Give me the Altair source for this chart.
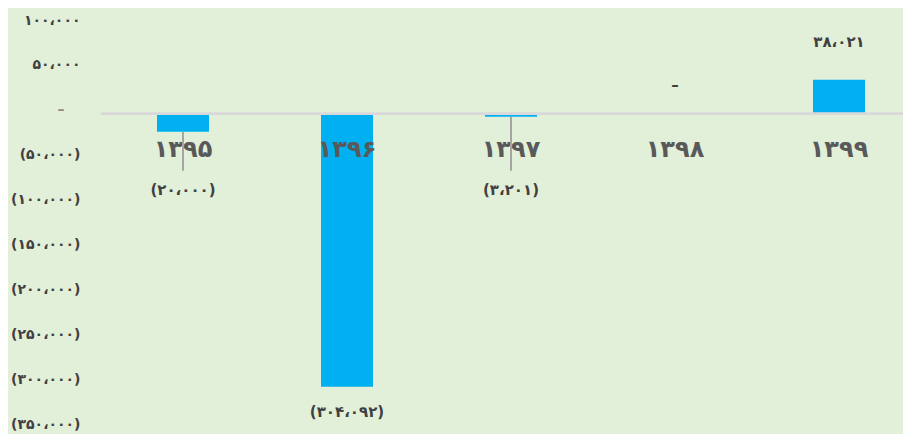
import json
import altair as alt
import pandas as pd

# ---- data ----
years = ["۱۳۹۵", "۱۳۹۶", "۱۳۹۷", "۱۳۹۸", "۱۳۹۹"]
values = [-20000, -304092, -3201, 0, 38021]
value_labels = ["(۲۰،۰۰۰)", "(۳۰۴،۰۹۲)", "(۳،۲۰۱)", "–", "۳۸،۰۲۱"]

tick_values = [100000, 50000, 0, -50000, -100000, -150000, -200000, -250000, -300000, -350000]
tick_labels = ["۱۰۰،۰۰۰", "۵۰،۰۰۰", "–", "(۵۰،۰۰۰)", "(۱۰۰،۰۰۰)",
               "(۱۵۰،۰۰۰)", "(۲۰۰،۰۰۰)", "(۲۵۰،۰۰۰)", "(۳۰۰،۰۰۰)", "(۳۵۰،۰۰۰)"]

# ---- layout / style ----
W, H = 802, 404          # page must fit 911x442 incl. 8px body margin
X_RANGE = 820            # band range; last band runs past the visible edge
Y_MIN, Y_MAX = -350000, 100000
px_per_unit = H / (Y_MAX - Y_MIN)
label_shift_px = [58, 25, 73, -29, -38]   # data label offsets below bar end (pixels)
leader = [True, False, True, False, False]  # leader lines for moved labels
BG = "#e2efd9"
BAR = "#00b0f0"
FONT = "DejaVu Sans"

df = pd.DataFrame({"year": years, "value": values, "label": value_labels,
                   "shift": label_shift_px, "leader": leader})
df["label_pos"] = df["value"] - df["shift"] / px_per_unit
df["leader_end"] = df["value"] - (df["shift"] - 19) / px_per_unit

x = alt.X("year:N", sort=years, axis=None,
          scale=alt.Scale(paddingInner=0, paddingOuter=0, range=[0, X_RANGE]))
yscale = alt.Scale(domain=[Y_MIN, Y_MAX], nice=False, zero=False)

label_expr = "{}[indexof({}, datum.value)]".format(json.dumps(tick_labels, ensure_ascii=False),
                                                   json.dumps(tick_values))

base = alt.Chart(df)

bars = base.mark_bar(size=52, color=BAR).encode(
    x=x,
    y=alt.Y("value:Q", scale=yscale,
            axis=alt.Axis(values=tick_values, labelExpr=label_expr, grid=False,
                          domain=False, ticks=False, title=None,
                          labelPadding=alt.condition("datum.value == 0", alt.value(37),
                                                     alt.value(21)),
                          labelFont=FONT, labelFontSize=14, labelFontWeight="bold",
                          labelColor=alt.condition("datum.value == 0", alt.value("#8c8c8c"),
                                                   alt.value("#404040")),
                          labelOverlap=False, labelOffset=-4)),
    y2=alt.datum(0),
)

zero_line = base.mark_rule(color="#d9d9d9", strokeWidth=2).encode(y=alt.datum(0))

cat_text = base.mark_text(font=FONT, fontSize=24, fontWeight="bold", color="#595959",
                          baseline="middle", dy=36).encode(
    x=x, y=alt.datum(0), text="year:N")

leaders = base.transform_filter("datum.leader").mark_rule(color="#a6a6a6", strokeWidth=2).encode(
    x=x, y=alt.Y("value:Q", scale=yscale), y2="leader_end:Q")

val_text = base.mark_text(font=FONT, fontSize=15, fontWeight="bold", color="#404040",
                          baseline="middle").encode(
    x=x, y=alt.Y("label_pos:Q", scale=yscale), text="label:N")

chart = alt.layer(bars, zero_line, cat_text, leaders, val_text).properties(
    width=W, height=H, background=BG,
    autosize=alt.AutoSizeParams(type="none"),
    padding={"left": 93, "top": 16, "right": 0, "bottom": 6},
).configure_view(strokeWidth=0, fill=BG)

chart.save("out.html", embed_options={"renderer": "svg", "actions": False})
